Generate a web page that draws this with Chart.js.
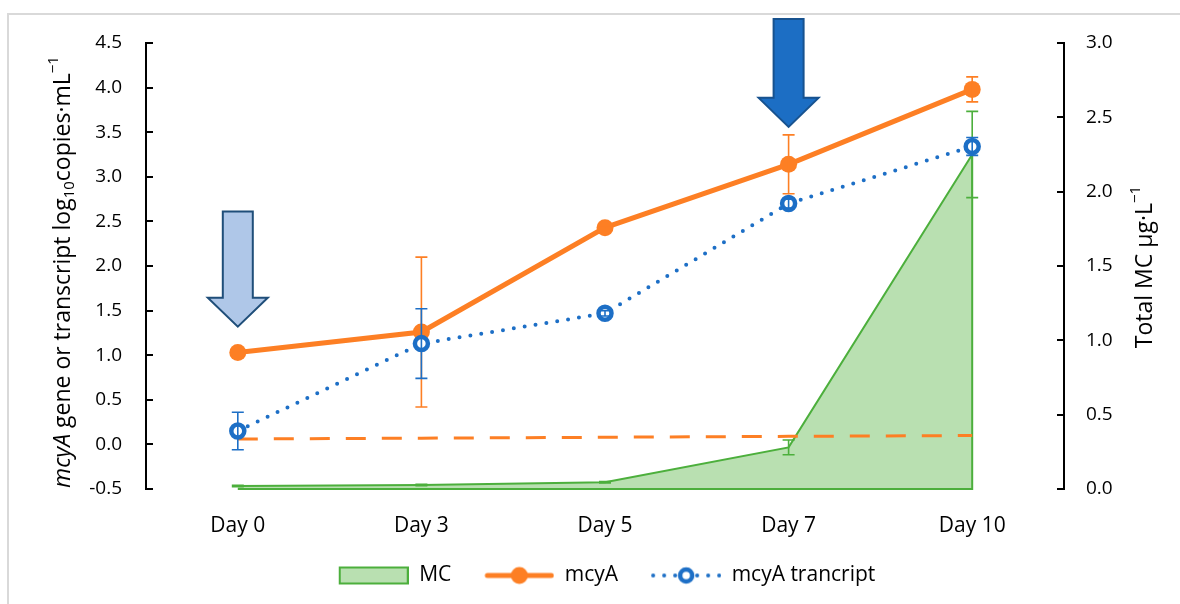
<!DOCTYPE html>
<html>
<head>
<meta charset="utf-8">
<script src="https://cdn.jsdelivr.net/npm/chart.js@4"></script>
<style>
  html, body { margin: 0; padding: 0; background: #fff; }
  #wrap { position: relative; width: 1180px; height: 604px; }
</style>
</head>
<body>
<div id="wrap"><canvas id="chart" width="1180" height="604"></canvas></div>
<script>
const days = ['Day 0', 'Day 3', 'Day 5', 'Day 7', 'Day 10'];

// left axis: log10 copies per mL
const mcyA = [1.03, 1.26, 2.43, 3.14, 3.98];
const mcyAErr = [0, 0.84, 0.02, 0.33, 0.14];
const transcript = [0.15, 1.13, 1.47, 2.70, 3.34];
const transcriptErr = [0.21, 0.39, 0.03, 0.05, 0.10];
const detectionLimit = [0.06, 0.07, 0.08, 0.09, 0.10];

// right axis: total MC ug/L
const mc = [0.02, 0.027, 0.045, 0.28, 2.25];
const mcErr = [0.005, 0.005, 0.005, 0.05, 0.29];

const leftTicks = [-0.5, 0, 0.5, 1, 1.5, 2, 2.5, 3, 3.5, 4, 4.5];
const rightTicks = [0, 0.5, 1, 1.5, 2, 2.5, 3];

// arrows: day index, top and tip on the left axis
const arrows = [
  { day: 0, top: 2.61, tip: 1.32, fill: '#AFC7E8', stroke: '#1F4E79' },
  { day: 3, top: 4.77, tip: 3.56, fill: '#1C6EC4', stroke: '#17528F' }
];

const orange = '#FD7F24';
const blue = '#1D6FC6';
const green = '#4CAF3C';
const greenFill = 'rgba(185, 224, 177, 1)';
const font = '"Open Sans", sans-serif';

Chart.defaults.font.family = font;
Chart.defaults.font.size = 19;
Chart.defaults.color = '#000';

// legend symbols: 12px blank lead-in, then a 70px sample
function symbol(draw) {
  const c = document.createElement('canvas');
  c.width = 82;
  c.height = 20;
  const ctx = c.getContext('2d');
  ctx.translate(12, 0);
  draw(ctx);
  return c;
}

const mcSymbol = symbol(ctx => {
  ctx.fillStyle = greenFill;
  ctx.strokeStyle = green;
  ctx.lineWidth = 2;
  ctx.fillRect(1, 2, 68, 16);
  ctx.strokeRect(1, 2, 68, 16);
});

const mcyASymbol = symbol(ctx => {
  ctx.strokeStyle = orange;
  ctx.lineWidth = 5;
  ctx.lineCap = 'round';
  ctx.beginPath();
  ctx.moveTo(3, 10);
  ctx.lineTo(67, 10);
  ctx.stroke();
  ctx.fillStyle = orange;
  ctx.beginPath();
  ctx.arc(35, 10, 8.5, 0, Math.PI * 2);
  ctx.fill();
});

const transcriptSymbol = symbol(ctx => {
  ctx.strokeStyle = blue;
  ctx.lineWidth = 4;
  ctx.lineCap = 'round';
  ctx.setLineDash([0, 11]);
  ctx.beginPath();
  ctx.moveTo(2, 10);
  ctx.lineTo(69, 10);
  ctx.stroke();
  ctx.setLineDash([]);
  ctx.fillStyle = '#fff';
  ctx.lineWidth = 4.5;
  ctx.beginPath();
  ctx.arc(35, 10, 6, 0, Math.PI * 2);
  ctx.fill();
  ctx.stroke();
});

function drawRich(ctx, parts, cx, cy) {
  const base = 23;
  const small = 15;
  const fontOf = p => (p.italic ? 'italic ' : '') + (p.sub || p.sup ? small : base) + 'px ' + font;
  let total = 0;
  parts.forEach(p => { ctx.font = fontOf(p); total += ctx.measureText(p.text).width; });
  let x = cx - total / 2;
  ctx.textBaseline = 'middle';
  ctx.textAlign = 'left';
  parts.forEach(p => {
    ctx.font = fontOf(p);
    const dy = p.sub ? 7 : p.sup ? -9 : 0;
    ctx.fillText(p.text, x, cy + dy);
    x += ctx.measureText(p.text).width;
  });
}

const decor = {
  id: 'decor',
  beforeDraw(chart) {
    const ctx = chart.ctx;
    ctx.save();
    ctx.strokeStyle = '#D9D9D9';
    ctx.lineWidth = 2;
    ctx.beginPath();
    ctx.moveTo(8, 604);
    ctx.lineTo(8, 14);
    ctx.lineTo(1180, 14);
    ctx.stroke();
    ctx.restore();
  },
  afterDatasetDraw(chart, args) {
    const ds = chart.data.datasets[args.index];
    const ctx = chart.ctx;
    const pts = args.meta.data;
    const yScale = chart.scales[ds.yAxisID];
    ctx.save();
    if (ds.outline) {
      const y0 = yScale.getPixelForValue(0);
      ctx.strokeStyle = ds.borderColor;
      ctx.lineWidth = ds.borderWidth;
      ctx.beginPath();
      ctx.moveTo(pts[pts.length - 1].x, pts[pts.length - 1].y);
      ctx.lineTo(pts[pts.length - 1].x, y0);
      ctx.lineTo(pts[0].x, y0);
      ctx.stroke();
    }
    if (ds.errors) {
      ctx.strokeStyle = ds.errorColor;
      ctx.lineWidth = 1.6;
      pts.forEach((pt, i) => {
        const e = ds.errors[i];
        if (!e) return;
        const top = yScale.getPixelForValue(ds.data[i] + e);
        const bot = yScale.getPixelForValue(ds.data[i] - e);
        ctx.beginPath();
        ctx.moveTo(pt.x, top);
        ctx.lineTo(pt.x, bot);
        ctx.moveTo(pt.x - 6, top);
        ctx.lineTo(pt.x + 6, top);
        ctx.moveTo(pt.x - 6, bot);
        ctx.lineTo(pt.x + 6, bot);
        ctx.stroke();
      });
    }
    ctx.restore();
  },
  afterDraw(chart) {
    const ctx = chart.ctx;
    const {x, y, y1} = chart.scales;
    ctx.save();
    // inward tick marks
    ctx.strokeStyle = '#000';
    ctx.lineWidth = 2;
    leftTicks.forEach(v => {
      const py = Math.round(y.getPixelForValue(v));
      ctx.beginPath();
      ctx.moveTo(y.right, py);
      ctx.lineTo(y.right + 7, py);
      ctx.stroke();
    });
    rightTicks.forEach(v => {
      const py = Math.round(y1.getPixelForValue(v));
      ctx.beginPath();
      ctx.moveTo(y1.left, py);
      ctx.lineTo(y1.left - 7, py);
      ctx.stroke();
    });
    // arrows
    arrows.forEach(a => {
      const cx = x.getPixelForValue(a.day);
      const top = y.getPixelForValue(a.top);
      const tip = y.getPixelForValue(a.tip);
      const headBase = tip - 29;
      ctx.beginPath();
      ctx.moveTo(cx - 15, top);
      ctx.lineTo(cx + 15, top);
      ctx.lineTo(cx + 15, headBase);
      ctx.lineTo(cx + 30, headBase);
      ctx.lineTo(cx, tip);
      ctx.lineTo(cx - 30, headBase);
      ctx.lineTo(cx - 15, headBase);
      ctx.closePath();
      ctx.fillStyle = a.fill;
      ctx.fill();
      ctx.strokeStyle = a.stroke;
      ctx.lineWidth = 2;
      ctx.stroke();
    });
    // axis titles
    ctx.fillStyle = '#000';
    ctx.save();
    ctx.translate(63, 272);
    ctx.rotate(-Math.PI / 2);
    drawRich(ctx, [
      { text: 'mcyA', italic: true },
      { text: ' gene or transcript log' },
      { text: '10', sub: true },
      { text: 'copies\u00B7mL' },
      { text: '\u22121', sup: true }
    ], 0, 0);
    ctx.restore();
    ctx.save();
    ctx.translate(1145, 267);
    ctx.rotate(-Math.PI / 2);
    drawRich(ctx, [
      { text: 'Total MC \u00B5g\u00B7L' },
      { text: '\u22121', sup: true }
    ], 0, 0);
    ctx.restore();
    ctx.restore();
  }
};

new Chart(document.getElementById('chart'), {
  type: 'line',
  data: {
    labels: days,
    datasets: [
      {
        label: 'MC',
        data: mc,
        yAxisID: 'y1',
        borderColor: green,
        backgroundColor: greenFill,
        borderWidth: 2,
        fill: 'origin',
        pointRadius: 0,
        outline: true,
        errors: mcErr,
        errorColor: green,
        order: 3
      },
      {
        label: 'limit',
        data: detectionLimit,
        yAxisID: 'y',
        borderColor: orange,
        borderWidth: 3,
        borderDash: [20, 16],
        pointRadius: 0,
        fill: false,
        order: 2
      },
      {
        label: 'mcyA',
        data: mcyA,
        yAxisID: 'y',
        borderColor: orange,
        backgroundColor: orange,
        borderWidth: 5,
        pointRadius: 8.5,
        pointBorderWidth: 0,
        pointBackgroundColor: orange,
        fill: false,
        errors: mcyAErr,
        errorColor: orange,
        order: 1
      },
      {
        label: 'mcyA trancript',
        data: transcript,
        yAxisID: 'y',
        borderColor: blue,
        borderWidth: 4,
        borderDash: [0, 11],
        borderCapStyle: 'round',
        pointRadius: 6.5,
        pointBorderWidth: 4.5,
        pointBorderColor: blue,
        pointBackgroundColor: '#fff',
        fill: false,
        errors: transcriptErr,
        errorColor: blue,
        order: 0
      }
    ]
  },
  options: {
    responsive: false,
    animation: false,
    layout: { padding: { top: 43, left: 22, right: 0, bottom: 8 } },
    plugins: {
      tooltip: { enabled: false },
      legend: {
        position: 'bottom',
        labels: {
          usePointStyle: true,
          pointStyleWidth: 82,
          padding: 21,
          font: { size: 21 },
          generateLabels: () => [
            { text: 'MC', pointStyle: mcSymbol, datasetIndex: 0 },
            { text: 'mcyA', pointStyle: mcyASymbol, datasetIndex: 2 },
            { text: 'mcyA trancript', pointStyle: transcriptSymbol, datasetIndex: 3 }
          ].map(item => ({ ...item, hidden: false, lineWidth: 0, fillStyle: 'transparent', strokeStyle: 'transparent', fontColor: '#000' }))
        }
      }
    },
    scales: {
      x: {
        offset: true,
        grid: { display: false },
        border: { display: false },
        ticks: { padding: 16, font: { size: 21 } },
        afterFit: s => { s.height = 55; }
      },
      y: {
        position: 'left',
        min: -0.5,
        max: 4.5,
        afterBuildTicks: s => { s.ticks = leftTicks.map(v => ({ value: v })); },
        ticks: { padding: 24, callback: v => v.toFixed(1) },
        grid: { drawOnChartArea: false, drawTicks: false },
        border: { display: true, color: '#000', width: 2 },
        afterFit: s => { s.width = 124; }
      },
      y1: {
        position: 'right',
        min: 0,
        max: 3,
        afterBuildTicks: s => { s.ticks = rightTicks.map(v => ({ value: v })); },
        ticks: { padding: 22, callback: v => v.toFixed(1) },
        grid: { drawOnChartArea: false, drawTicks: false },
        border: { display: true, color: '#000', width: 2 },
        afterFit: s => { s.width = 116; }
      }
    }
  },
  plugins: [decor]
});
</script>
</body>
</html>
